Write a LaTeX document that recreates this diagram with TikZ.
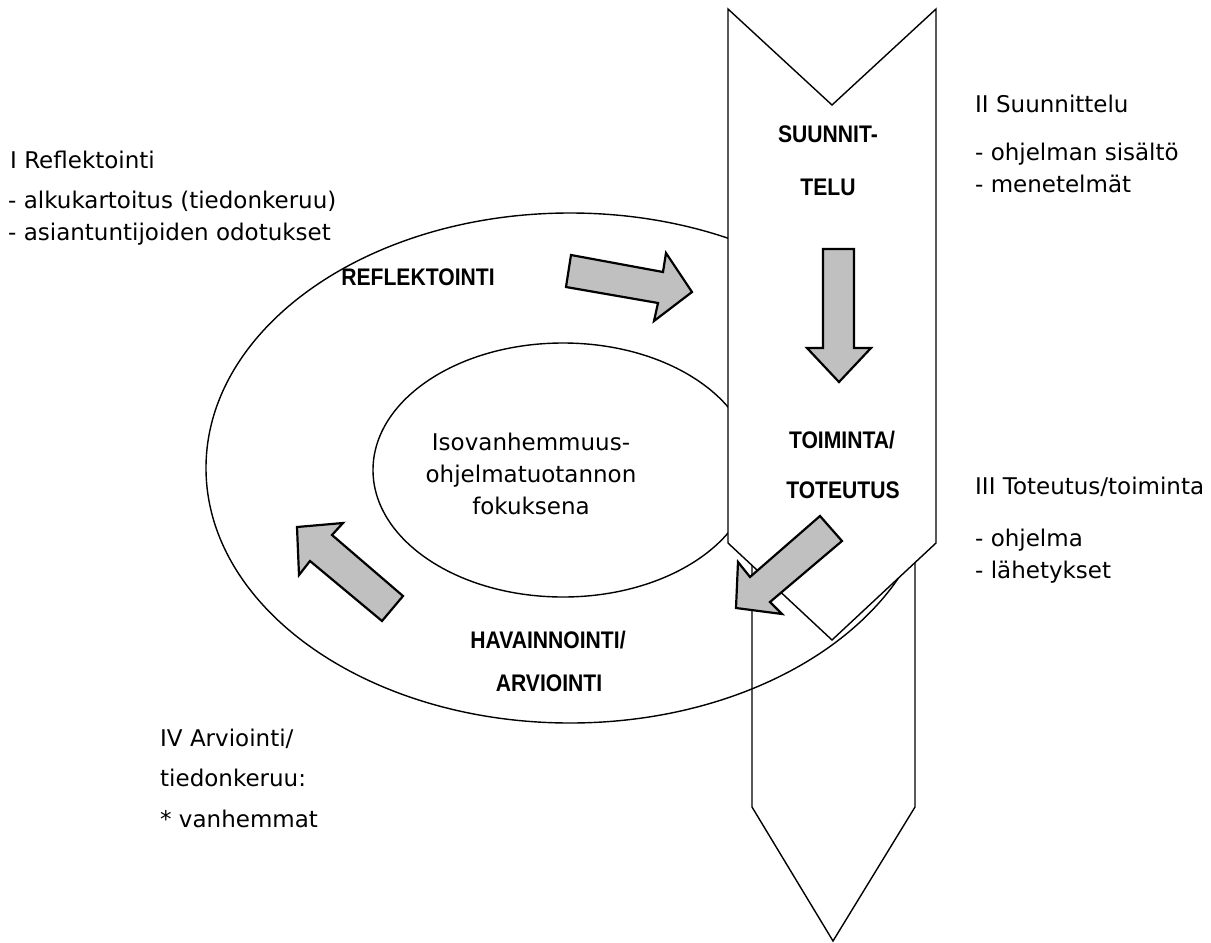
\documentclass[tikz,border=0pt]{standalone}
\usepackage{fontspec}
\setmainfont{DejaVu Sans}
\newfontfamily\labfont[FakeStretch=0.88]{Liberation Sans}
\definecolor{arrowgray}{HTML}{C0C0C0}
\tikzset{
  outline/.style={draw=black, line width=1.4pt, line join=miter},
  fatarrow/.style={draw=black, fill=arrowgray, line width=2.2pt, line join=miter},
  plaintext/.style={font=\fontsize{23}{28}\selectfont, anchor=base west, inner sep=0pt},
  centertext/.style={font=\fontsize{23}{28}\selectfont, anchor=base, inner sep=0pt},
  boldlabel/.style={font=\labfont\bfseries\fontsize{24}{28}\selectfont, anchor=base, inner sep=0pt},
}
\begin{document}
\begin{tikzpicture}[x=1pt,y=-1pt]
\useasboundingbox[fill=white] (0,0) rectangle (1211,943);
% ellipses
\draw[outline] (570,468) ellipse [x radius=364pt, y radius=255pt];
\draw[outline] (563,470) ellipse [x radius=190pt, y radius=127pt];
% lower chevron (open, behind)
\draw[outline] (752,450) -- (752,807) -- (833,941) -- (915,807) -- (915,450);
% upper chevron
\filldraw[outline, fill=white] (728,9) -- (832,105) -- (936,9) -- (936,543) -- (832,640) -- (728,543) -- cycle;
% fat arrows
\draw[fatarrow] (571,255) -- (663,272) -- (666,253) -- (692,292) -- (654,321) -- (658,303) -- (566,287) -- cycle;
\draw[fatarrow] (823,249) -- (854,249) -- (854,348) -- (871,348) -- (839,382) -- (807,348) -- (823,348) -- cycle;
\draw[fatarrow] (820,516) -- (842,541) -- (770,602) -- (782,614) -- (736,608) -- (738,562) -- (750,577) -- cycle;
\draw[fatarrow] (297,527) -- (343,523) -- (332,535) -- (403,596) -- (382,621) -- (310,561) -- (299,575) -- cycle;
% bold labels
\node[boldlabel] (suun) at (828,142) {SUUNNIT-};
\node[boldlabel] (telu) at (828,195) {TELU};
\node[boldlabel] (refl) at (418,285) {REFLEKTOINTI};
\node[boldlabel] (toim) at (842,448) {TOIMINTA/};
\node[boldlabel] (tote) at (843,498) {TOTEUTUS};
\node[boldlabel] (hava) at (548,648) {HAVAINNOINTI/};
\node[boldlabel] (arvi) at (549,691) {ARVIOINTI};
% centre text
\node[centertext] (c1) at (531,450) {Isovanhemmuus-};
\node[centertext] (c2) at (531,482) {ohjelmatuotannon};
\node[centertext] (c3) at (531,514) {fokuksena};
% side texts
\node[plaintext] (r1) at (10,168) {I Reflektointi};
\node[plaintext] (r2) at (8,208) {- alkukartoitus (tiedonkeruu)};
\node[plaintext] (r3) at (8,240) {- asiantuntijoiden odotukset};
\node[plaintext] (s1) at (975,112) {II Suunnittelu};
\node[plaintext] (s2) at (975,160) {- ohjelman sisältö};
\node[plaintext] (s3) at (975,192) {- menetelmät};
\node[plaintext] (t1) at (975,494) {III Toteutus/toiminta};
\node[plaintext] (t2) at (975,546) {- ohjelma};
\node[plaintext] (t3) at (975,578) {- lähetykset};
\node[plaintext] (a1) at (160,746) {IV Arviointi/};
\node[plaintext] (a2) at (160,786) {tiedonkeruu:};
\node[plaintext] (a3) at (160,827) {* vanhemmat};
\end{tikzpicture}
\end{document}
